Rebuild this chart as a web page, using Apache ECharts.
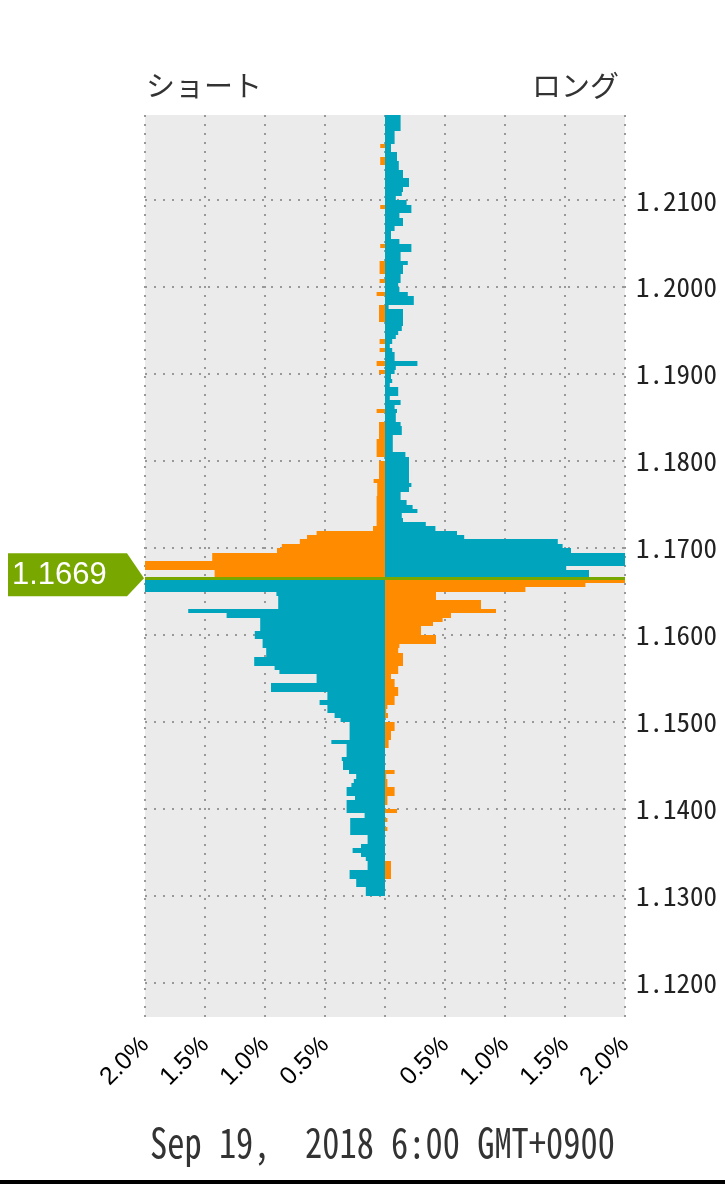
<!DOCTYPE html>
<html><head><meta charset="utf-8">
<script src="https://cdn.jsdelivr.net/npm/echarts@6/dist/echarts.min.js"></script>
<style>html,body{margin:0;padding:0;background:#fff;}#c{width:725px;height:1185px;}</style>
</head><body><div id="c"></div>
<script>
// ---- data ----
const bucketSize = 0.0005;
const topBucketStart = 1.2195;          // lower edge of the first (top) bucket
const priceTicks = [1.12, 1.13, 1.14, 1.15, 1.16, 1.17, 1.18, 1.19, 1.20, 1.21];
const pctTicks = [-2, -1.5, -1, -0.5, 0, 0.5, 1, 1.5, 2];
const currentPrice = 1.1669;
const priceLineLevel = 1.1665;          // bucket boundary the current price falls in
const titleShort = 'ショート';
const titleLong = 'ロング';
const dateLabel = 'Sep 19,  2018 6:00 GMT+0900';
// % of positions per 0.0005 bucket, top (1.2195) to bottom (1.1300)
const shortPct = [
  0,0,0,0,0,0,0,0.04,0,0,
  0.04,0.04,0,0,0,0,0,0,0,0,
  0,0.04,0,0,0,0,0,0,0,0,
  0.04,0,0,0,0.045,0.045,0.045,0,0.045,0,
  0,0.07,0,0,0.05,0.05,0.05,0.05,0,0,
  0,0,0.045,0,0.045,0,0,0.07,0,0.05,
  0,0,0,0,0,0,0,0,0.07,0,
  0,0.05,0.05,0.05,0.05,0.07,0.07,0.07,0.07,0,
  0.05,0.05,0.05,0.05,0.095,0.065,0.065,0.065,0.07,0.07,
  0.07,0.07,0.07,0.07,0.07,0.10,0.57,0.65,0.71,0.86,
  0.90,1.44,1.44,2.0,2.0,1.42,1.42,2.0,2.0,2.0,
  0.905,0.89,0.89,0.89,1.64,1.32,1.04,1.04,1.04,1.085,
  1.085,1.02,1.02,0.99,0.99,1.09,1.09,0.92,0.88,0.57,
  0.57,0.95,0.95,0.48,0.48,0.545,0.48,0.48,0.42,0.37,
  0.295,0.295,0.295,0.295,0.447,0.32,0.32,0.32,0.36,0.35,
  0.35,0.30,0.24,0.26,0.28,0.32,0.32,0.25,0.32,0.32,
  0.32,0.17,0.29,0.29,0.29,0.29,0.145,0.145,0.20,0.27,
  0.20,0.16,0.145,0.145,0.295,0.295,0.24,0.24,0.16,0.16
];
const longPct = [
  0.13,0.13,0.13,0.13,0.08,0.08,0.08,0.05,0.05,0.10,
  0.10,0.115,0.115,0.15,0.15,0.20,0.20,0.15,0.14,0.09,
  0.18,0.22,0.22,0.12,0.15,0.15,0.08,0.05,0.05,0.12,
  0.22,0.22,0.13,0.13,0.19,0.15,0.15,0.13,0.13,0.11,
  0.12,0.19,0.24,0.24,0.03,0.15,0.15,0.15,0.15,0.14,
  0.11,0.09,0.06,0.04,0.06,0.08,0.08,0.27,0.09,0.08,
  0.05,0.06,0.04,0.11,0.11,0.04,0.13,0.08,0.10,0.09,
  0.09,0.13,0.14,0.14,0.065,0.065,0.065,0.065,0.17,0.20,
  0.20,0.20,0.20,0.20,0.20,0.22,0.20,0.13,0.13,0.18,
  0.23,0.27,0.14,0.15,0.34,0.42,0.60,0.66,1.44,1.48,
  1.55,2.0,2.0,2.0,1.51,1.70,1.70,2.0,1.67,1.17,
  0.425,0.425,0.80,0.80,0.925,0.55,0.48,0.40,0.30,0.30,
  0.425,0.425,0.12,0.11,0.15,0.15,0.15,0.11,0.11,0.05,
  0.08,0.08,0.11,0.11,0.08,0.08,0.02,0.01,0.025,0,
  0.08,0.08,0.05,0.05,0.03,0.03,0,0,0,0,
  0,0.08,0.01,0.02,0.02,0.08,0.08,0.02,0.02,0,
  0.10,0,0.02,0,0.02,0,0,0,0,0,
  0,0,0.05,0.05,0.05,0.05,0,0,0,0
];
// ---- styles ----
const TEAL = '#00a5bd', ORANGE = '#ff8c00', GREEN = '#78a800';
const MONO = 'Noto Sans Mono CJK JP, DejaVu Sans Mono, monospace';

const rows = shortPct.map((s, i) => [+(topBucketStart - i * bucketSize).toFixed(4), s, longPct[i]]);

const chart = echarts.init(document.getElementById('c'), null, {renderer: 'canvas'});
chart.setOption({
  animation: false,
  backgroundColor: '#ffffff',
  title: [
    {text: titleShort, left: 141, top: 66,
     textStyle: {fontFamily: 'Noto Sans CJK JP', fontSize: 29, fontWeight: 'normal', color: '#333'}},
    {text: titleLong, right: 101, top: 66,
     textStyle: {fontFamily: 'Noto Sans CJK JP', fontSize: 29, fontWeight: 'normal', color: '#333'}}
  ],
  grid: {left: 145, right: 100, top: 115, bottom: 168, outerBoundsMode: 'none',
         show: true, backgroundColor: '#ebebeb', borderWidth: 0},
  xAxis: {
    type: 'value', min: -2, max: 2, interval: 0.5,
    axisLine: {show: false}, axisTick: {show: false},
    splitLine: {show: true, lineStyle: {color: '#999', width: 2, type: [2, 7]}},
    axisLabel: {
      rotate: 45, margin: 24, fontSize: 25, color: '#000', fontFamily: 'Liberation Sans',
      formatter: v => v === 0 ? '' : Math.abs(v).toFixed(1) + '%'
    }
  },
  yAxis: {
    type: 'value', min: 1.1161, max: 1.2198, position: 'right',
    axisLine: {show: false},
    axisTick: {show: false, customValues: priceTicks},
    splitLine: {show: true, lineStyle: {color: '#999', width: 2, type: [2, 7]}},
    axisLabel: {
      customValues: priceTicks, margin: 11, fontSize: 27, color: '#222',
      fontFamily: MONO, padding: [0, 0, 6, 0],
      formatter: v => v.toFixed(4)
    }
  },
  graphic: [
    {type: 'text', x: 150, y: 1122, scaleX: 0.84,
     style: {text: dateLabel, fontSize: 41, fill: '#333', fontFamily: MONO, verticalAlign: 'top'}},
    {type: 'rect', left: 0, top: 1180, shape: {width: 725, height: 4}, style: {fill: '#000'}}
  ],
  series: [
    {
      type: 'custom', clip: true, encode: {y: 0, x: 1}, data: rows, z: 2,
      renderItem(params, api) {
        const lo = api.value(0), s = api.value(1), l = api.value(2);
        const above = lo >= priceLineLevel - 1e-9;
        const b = api.coord([0, lo]);
        const t = api.coord([0, lo + bucketSize]);
        const xs = api.coord([-s, lo])[0];
        const xl = api.coord([l, lo])[0];
        const y0 = Math.round(t[1]), h = Math.round(b[1]) - y0;
        const kids = [];
        if (s > 0) kids.push({type: 'rect', shape: {x: xs, y: y0, width: b[0] - xs, height: h},
           style: {fill: above ? ORANGE : TEAL}});
        if (l > 0) kids.push({type: 'rect', shape: {x: b[0], y: y0, width: xl - b[0], height: h},
           style: {fill: above ? TEAL : ORANGE}});
        return {type: 'group', children: kids};
      }
    },
    {
      type: 'custom', clip: false, encode: {y: 0}, z: 5,
      data: [[currentPrice, priceLineLevel]],
      renderItem(params, api) {
        const p = api.coord([-2, api.value(0)]);
        const lineL = api.coord([-2, api.value(1)]);
        const lineR = api.coord([2, api.value(1)]);
        const c = p[1];
        const x0 = p[0];
        return {type: 'group', children: [
          {type: 'line', shape: {x1: lineL[0], y1: lineL[1], x2: lineR[0], y2: lineR[1]},
           style: {stroke: GREEN, lineWidth: 3}},
          {type: 'polygon', shape: {points: [[x0 - 137, c - 22], [x0 - 18, c - 22], [x0 - 1, c + 3], [x0 - 18, c + 21], [x0 - 137, c + 21]]},
           style: {fill: GREEN}},
          {type: 'text', style: {x: x0 - 133, y: c, text: currentPrice.toFixed(4), fill: '#fff',
            fontSize: 31, fontFamily: 'Liberation Sans', verticalAlign: 'middle', align: 'left'}}
        ]};
      }
    }
  ]
});
</script></body></html>
